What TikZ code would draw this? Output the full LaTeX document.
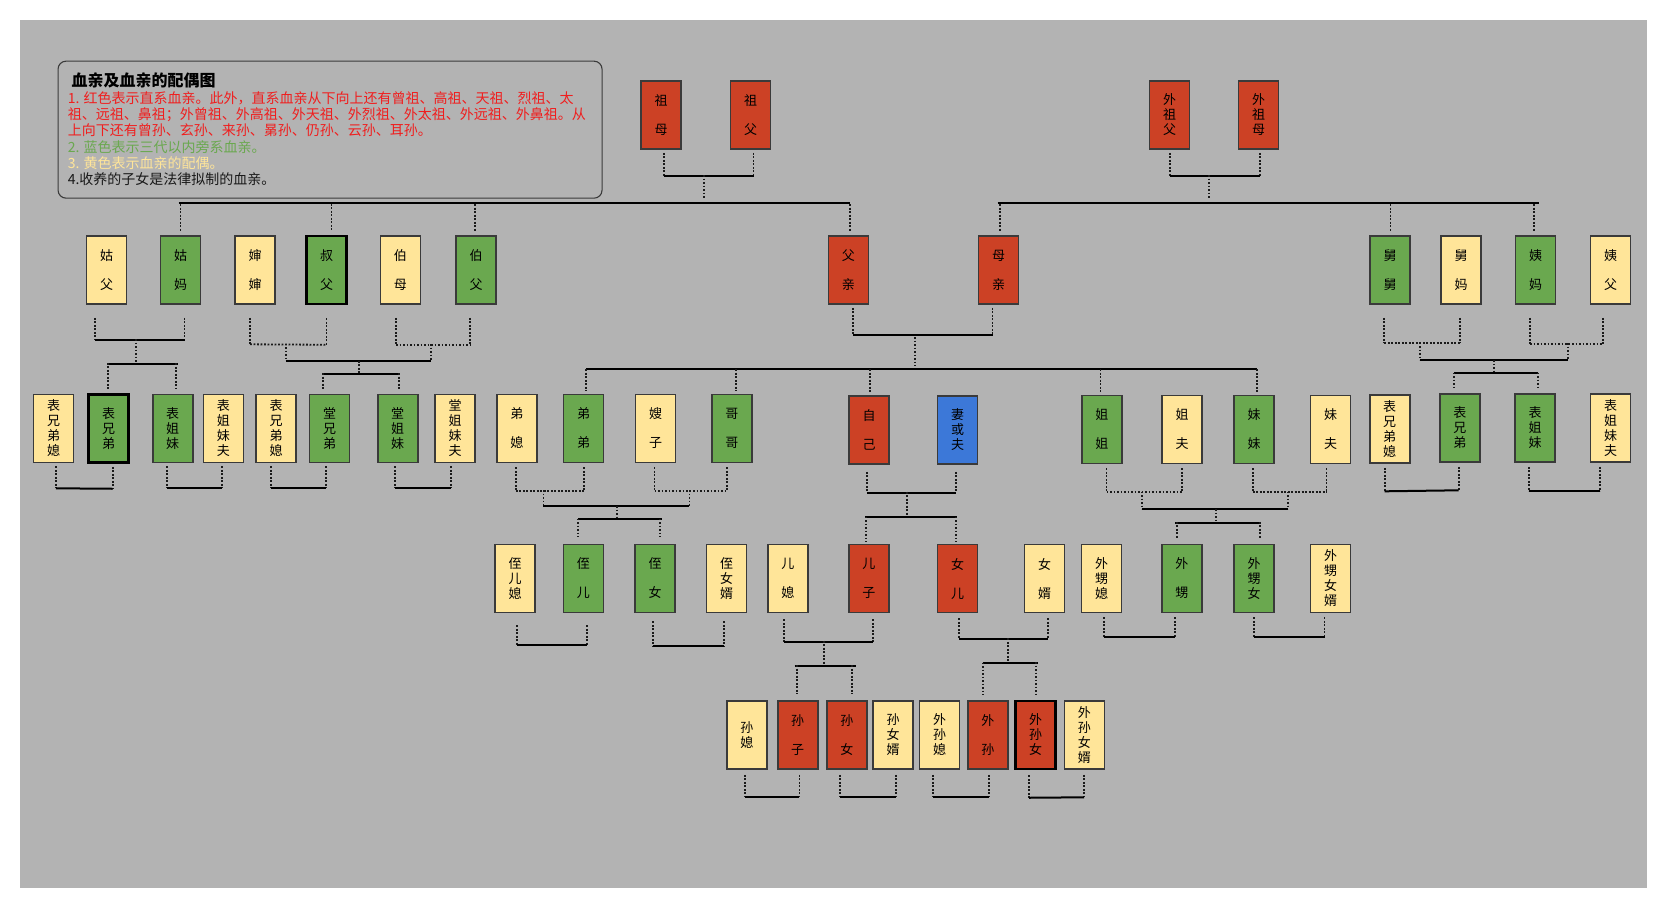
\documentclass[tikz,border=0pt]{standalone}
\usepackage{fontspec}
\usetikzlibrary{calc}
\newfontfamily\cjk{Noto Sans CJK SC}
\definecolor{bgc}{HTML}{B3B3B3}
\definecolor{cred}{HTML}{CC4125}
\definecolor{cgreen}{HTML}{6AA84F}
\definecolor{cyellow}{HTML}{FFE599}
\definecolor{cblue}{HTML}{3C78D8}
\definecolor{boxline}{HTML}{3A3A3A}
\definecolor{dotc}{HTML}{1A1A1A}
\definecolor{tred}{HTML}{F01E1E}
\definecolor{tgreen}{HTML}{6AA84F}
\definecolor{tyellow}{HTML}{FFE599}
\newcommand\lblfont{\cjk\fontsize{13}{15}\selectfont}
\newcommand\notefont{\cjk\fontsize{14}{16}\selectfont}
\newcommand\ttlfont{\cjk\bfseries\fontsize{16}{18}\selectfont}
\newcommand\famlink[7]{%
  \draw[dl] ($(#2.south)+(#3,#7)$) -- ($(#2.south)+(#3,#6)$);
  \draw[dl] ($(#4.south)+(#5,#7)$) -- ($(#4.south)+(#5,#6)$);
  \draw[#1] ($(#2.south)+(#3,#6)$) -- ($(#4.south)+(#5,#6)$);}
\newcommand\dropto[4]{%
  \draw[dl] ($(#1.north)+(#2,-#3)$) -- ($(#1.north)+(#2,-#4)$);}
\tikzset{
  box/.style={draw=boxline, line width=1.6pt, minimum width=40pt, minimum height=68pt,
    inner sep=0pt, align=center, font=\lblfont, text=black},
  rbx/.style={box, fill=cred},
  gbx/.style={box, fill=cgreen},
  ybx/.style={box, fill=cyellow},
  bbx/.style={box, fill=cblue},
  heavy/.style={draw=black, line width=2.5pt},
  dl/.style={draw=dotc, line width=1.8pt, dash pattern=on 1.8pt off 1.7pt},
  sl/.style={draw=black, line width=2pt},
  note/.style={anchor=base west, font=\notefont, inner sep=0pt},
}
\begin{document}
\begin{tikzpicture}[x=1pt,y=-1pt]
\useasboundingbox (0,0) rectangle (1667,908);
\fill[white] (0,0) rectangle (1667,908);
\fill[bgc] (20,20) rectangle (1647,888);

% legend
\node[draw=boxline, line width=1.1pt, rounded corners=8pt, minimum width=544pt, minimum height=137pt,
  anchor=north west, inner sep=0pt] (legend) at (57.5,60.6) {};
\node[anchor=base west, font=\ttlfont, inner sep=0pt, text=black] (title) at (71.5,86) {血亲及血亲的配偶图};
\node[note, text=tred] (n1) at (67.6,103.6) {1. 红色表示直系血亲。此外，直系血亲从下向上还有曾祖、高祖、天祖、烈祖、太};
\node[note, text=tred] (n2) at (67.6,119.8) {祖、远祖、鼻祖；外曾祖、外高祖、外天祖、外烈祖、外太祖、外远祖、外鼻祖。从};
\node[note, text=tred] (n3) at (67.6,135.8) {上向下还有曾孙、玄孙、来孙、晜孙、仍孙、云孙、耳孙。};
\node[note, text=tgreen] (n4) at (67.6,152) {2. 蓝色表示三代以内旁系血亲。};
\node[note, text=tyellow] (n5) at (67.6,168.1) {3. 黄色表示血亲的配偶。};
\node[note, text=black!90] (n6) at (67.6,184) {4.收养的子女是法律拟制的血亲。};

% row 0
\node[rbx] (zumu) at (661,115) {祖\\[14pt]母};
\node[rbx] (zufu) at (750.5,115) {祖\\[14pt]父};
\node[rbx] (wzf) at (1169.6,115) {外\\祖\\父};
\node[rbx] (wzm) at (1258.6,115) {外\\祖\\母};

% row 1
\node[ybx] (gufu) at (106.5,270) {姑\\[14pt]父};
\node[gbx] (gumu) at (180.5,270) {姑\\[14pt]妈};
\node[ybx] (shen) at (255,270) {婶\\[14pt]婶};
\node[gbx, heavy] (shu) at (326.5,270) {叔\\[14pt]父};
\node[ybx] (bomu) at (400.3,270) {伯\\[14pt]母};
\node[gbx] (bofu) at (476,270) {伯\\[14pt]父};
\node[rbx] (fu) at (848.3,270) {父\\[14pt]亲};
\node[rbx] (mu) at (998.5,270) {母\\[14pt]亲};
\node[gbx] (jiu) at (1390,270) {舅\\[14pt]舅};
\node[ybx] (jiuma) at (1461,270) {舅\\[14pt]妈};
\node[gbx] (yima) at (1535.5,270) {姨\\[14pt]妈};
\node[ybx] (yifu) at (1610.5,270) {姨\\[14pt]父};

% row 2
\node[ybx] (la) at (53.5,428.5) {表\\兄\\弟\\媳};
\node[gbx, heavy] (lb) at (108.7,428.5) {表\\兄\\弟};
\node[gbx] (lc) at (172.7,428.5) {表\\姐\\妹};
\node[ybx] (ld) at (223.3,428.5) {表\\姐\\妹\\夫};
\node[ybx] (le) at (276.2,428.5) {表\\兄\\弟\\媳};
\node[gbx] (lf) at (329.5,428.5) {堂\\兄\\弟};
\node[gbx] (lg) at (397.7,428.5) {堂\\姐\\妹};
\node[ybx] (lh) at (455.2,428.5) {堂\\姐\\妹\\夫};
\node[ybx] (dixi) at (516.8,428.5) {弟\\[14pt]媳};
\node[gbx] (didi) at (583.5,428.5) {弟\\[14pt]弟};
\node[ybx] (sao) at (655.5,428.5) {嫂\\[14pt]子};
\node[gbx] (gege) at (731.8,428.5) {哥\\[14pt]哥};
\node[rbx] (self) at (869.2,430) {自\\[14pt]己};
\node[bbx] (spouse) at (957.5,430) {妻\\或\\夫};
\node[gbx] (jiejie) at (1101.8,429.5) {姐\\[14pt]姐};
\node[ybx] (jiefu) at (1182,429.5) {姐\\[14pt]夫};
\node[gbx] (meimei) at (1254,429.5) {妹\\[14pt]妹};
\node[ybx] (meifu) at (1330.5,429.5) {妹\\[14pt]夫};
\node[ybx] (r1) at (1389.7,429) {表\\兄\\弟\\媳};
\node[gbx] (r2) at (1459.8,428) {表\\兄\\弟};
\node[gbx] (r3) at (1535.2,428) {表\\姐\\妹};
\node[ybx] (r4) at (1610.5,428) {表\\姐\\妹\\夫};

% row 3
\node[ybx] (zexi) at (515.2,578.5) {侄\\儿\\媳};
\node[gbx] (zer) at (583.4,578.5) {侄\\[14pt]儿};
\node[gbx] (znv) at (655.2,578.5) {侄\\[14pt]女};
\node[ybx] (znx) at (726.5,578.5) {侄\\女\\婿};
\node[ybx] (erxi) at (787.9,578.5) {儿\\[14pt]媳};
\node[rbx] (erzi) at (868.9,578.5) {儿\\[14pt]子};
\node[rbx] (nver) at (957.5,578.5) {女\\[14pt]儿};
\node[ybx] (nvxu) at (1044.5,578.5) {女\\[14pt]婿};
\node[ybx] (wsx) at (1101.5,578.5) {外\\甥\\媳};
\node[gbx] (ws) at (1181.9,578.5) {外\\[14pt]甥};
\node[gbx] (wsn) at (1254.2,578.5) {外\\甥\\女};
\node[ybx] (wsnx) at (1330.5,578.5) {外\\甥\\女\\婿};

% row 4
\node[ybx] (sunxi) at (746.9,735) {孙\\媳};
\node[rbx] (sunzi) at (797.7,735) {孙\\[14pt]子};
\node[rbx] (sunnv) at (846.9,735) {孙\\[14pt]女};
\node[ybx] (sunnx) at (893.2,735) {孙\\女\\婿};
\node[ybx] (wsunx) at (939.5,735) {外\\孙\\媳};
\node[rbx] (wsun) at (987.9,735) {外\\[14pt]孙};
\node[rbx, heavy] (wsunn) at (1035.5,735) {外\\孙\\女};
\node[ybx] (wsunnx) at (1084.3,735) {外\\孙\\女\\婿};

% junction coordinates
\coordinate (pg1) at (704,175); \coordinate (pg2) at (704,199);
\coordinate (pl1) at (178.6,203); \coordinate (pl2) at (850.4,203);
\coordinate (mg1) at (1209,175); \coordinate (mg2) at (1209,199);
\coordinate (ml1) at (997.5,203); \coordinate (ml2) at (1538.6,203);
\coordinate (g1) at (135.7,339); \coordinate (g2) at (135.7,364);
\coordinate (g3) at (108.3,364); \coordinate (g4) at (177.7,364);
\coordinate (s1) at (285.7,343.5); \coordinate (s2) at (285.7,360.7);
\coordinate (s3) at (431,344); \coordinate (s4) at (431,360.7);
\coordinate (s5) at (359.3,360.7); \coordinate (s6) at (359.3,374);
\coordinate (s7) at (323.3,374); \coordinate (s8) at (399.3,374);
\coordinate (f1) at (915.3,337); \coordinate (f2) at (915.3,366);
\coordinate (f3) at (586,368.5); \coordinate (f4) at (1257,368.5);
\coordinate (j1) at (1420,342.5); \coordinate (j2) at (1420,360);
\coordinate (j3) at (1568,343); \coordinate (j4) at (1568,360);
\coordinate (j5) at (1493.7,360); \coordinate (j6) at (1493.7,373.3);
\coordinate (j7) at (1454.3,373.3); \coordinate (j8) at (1537.7,373.3);
\coordinate (d1) at (543.4,490); \coordinate (d2) at (543.4,506);
\coordinate (d3) at (689.4,490); \coordinate (d4) at (689.4,506);
\coordinate (d5) at (616.9,506); \coordinate (d6) at (616.9,519.3);
\coordinate (d7) at (577.8,519.3); \coordinate (d8) at (661.9,519.3);
\coordinate (e1) at (906.8,491.7); \coordinate (e2) at (906.8,517.3);
\coordinate (e3) at (865,517.3); \coordinate (e4) at (956.8,517.3);
\coordinate (k1) at (1142,491.5); \coordinate (k2) at (1142,509);
\coordinate (k3) at (1287.9,491.5); \coordinate (k4) at (1287.9,509);
\coordinate (k5) at (1216.3,509); \coordinate (k6) at (1216.3,522.7);
\coordinate (k7) at (1175.4,522.7); \coordinate (k8) at (1260,522.7);
\coordinate (h1) at (823.7,640.7); \coordinate (h2) at (823.7,666);
\coordinate (h3) at (794.7,666); \coordinate (h4) at (856,666);
\coordinate (q1) at (1007.7,638.3); \coordinate (q2) at (1007.7,663.3);
\coordinate (q3) at (982.7,663.3); \coordinate (q4) at (1038.3,663.3);

% grandparents
\famlink{sl}{zumu}{3}{zufu}{3}{26}{3}
\draw[dl] (pg1) -- (pg2);
\draw[sl] (pl1) -- (pl2);
\dropto{gumu}{0}{31}{4}
\dropto{shu}{5}{31}{4}
\dropto{bofu}{-1}{31}{4}
\dropto{fu}{2}{31}{4}
\famlink{sl}{wzf}{0}{wzm}{1}{26}{3}
\draw[dl] (mg1) -- (mg2);
\draw[sl] (ml1) -- (ml2);
\dropto{mu}{1.5}{31}{4}
\dropto{jiu}{0.5}{31}{4}
\dropto{yima}{-1.5}{31}{4}

% row 1 families
\famlink{sl}{gufu}{-11.5}{gumu}{4}{35}{13}
\draw[dl] (g1) -- (g2);
\draw[sl] (g3) -- (g4);
\dropto{lb}{-0.4}{30.5}{4.5}
\dropto{lc}{3.6}{30.5}{4.5}

\famlink{dl}{shen}{-5}{shu}{0}{39.5}{13}
\famlink{dl}{bomu}{-4.3}{bofu}{-6}{40}{13}
\draw[dl] (s1) -- (s2);
\draw[dl] (s3) -- (s4);
\draw[sl] (s2) -- (s4);
\draw[dl] (s5) -- (s6);
\draw[sl] (s7) -- (s8);
\dropto{lf}{-6.2}{20.5}{4.5}
\dropto{lg}{1.6}{20.5}{4.5}

\famlink{sl}{fu}{5}{mu}{-6}{30}{3}
\draw[dl] (f1) -- (f2);
\draw[sl] (f3) -- (f4);
\dropto{didi}{2.5}{24.5}{2.5}
\dropto{gege}{4.2}{24.5}{2.5}
\dropto{self}{1.1}{26}{2.5}
\dropto{jiejie}{-1.3}{25.5}{2.5}
\dropto{meimei}{2.6}{25.5}{2.5}

\famlink{dl}{jiu}{-5.7}{jiuma}{-0.7}{38.5}{13}
\famlink{dl}{yima}{-5.5}{yifu}{-7.5}{39}{13}
\draw[dl] (j1) -- (j2);
\draw[dl] (j3) -- (j4);
\draw[sl] (j2) -- (j4);
\draw[dl] (j5) -- (j6);
\draw[sl] (j7) -- (j8);
\dropto{r2}{-5.5}{20.7}{5}
\dropto{r3}{2.5}{20.7}{5}

% row 2 families
\famlink{sl}{la}{2.3}{lb}{4}{25}{3}
\famlink{sl}{lc}{-5.7}{ld}{-1.3}{25}{3}
\famlink{sl}{le}{-5.5}{lf}{-3.7}{25}{3}
\famlink{sl}{lg}{-3}{lh}{-4.5}{25}{3}
\famlink{dl}{dixi}{-0.9}{didi}{0.3}{27.5}{4}
\famlink{dl}{sao}{-1}{gege}{-4.8}{27.5}{4}
\draw[dl] (d1) -- (d2);
\draw[dl] (d3) -- (d4);
\draw[sl] (d2) -- (d4);
\draw[dl] (d5) -- (d6);
\draw[sl] (d7) -- (d8);
\dropto{zer}{-5.1}{25.2}{6.5}
\dropto{znv}{4.4}{25.2}{6.5}
\famlink{sl}{self}{-2.4}{spouse}{-1.5}{27.7}{7}
\draw[dl] (e1) -- (e2);
\draw[sl] (e3) -- (e4);
\dropto{erzi}{-3.2}{27.2}{1.5}
\dropto{nver}{-1.5}{27.2}{1.5}
\famlink{dl}{jiejie}{4.7}{jiefu}{0.3}{28}{4}
\famlink{dl}{meimei}{-1.3}{meifu}{-4}{28}{4}
\draw[dl] (k1) -- (k2);
\draw[dl] (k3) -- (k4);
\draw[sl] (k2) -- (k4);
\draw[dl] (k5) -- (k6);
\draw[sl] (k7) -- (k8);
\dropto{ws}{-4.6}{21.8}{4.5}
\dropto{wsn}{5.4}{21.8}{4.5}
\famlink{sl}{r1}{-5}{r2}{-1.2}{27.5}{4}
\famlink{sl}{r3}{-6.6}{r4}{-10.5}{28.5}{4}

% row 3 families
\famlink{sl}{zexi}{1.4}{zer}{3.4}{32}{12}
\famlink{sl}{znv}{-2.5}{znx}{-2.5}{33}{8}
\famlink{sl}{erxi}{-3.9}{erzi}{3.8}{28.2}{6}
\draw[dl] (h1) -- (h2);
\draw[sl] (h3) -- (h4);
\dropto{sunzi}{-1}{35}{6}
\dropto{sunnv}{5.1}{35}{6}
\famlink{sl}{nver}{1.5}{nvxu}{3.8}{25.8}{5}
\draw[dl] (q1) -- (q2);
\draw[sl] (q3) -- (q4);
\dropto{wsun}{-5.2}{37.7}{5}
\dropto{wsunn}{0.2}{37.7}{5}
\famlink{sl}{wsx}{2.5}{ws}{-6.9}{24}{4}
\famlink{sl}{wsn}{0.1}{wsnx}{-6}{24}{4}

% row 4 families
\famlink{sl}{sunxi}{-1.9}{sunzi}{1.7}{27.5}{5}
\famlink{sl}{sunnv}{-7.1}{sunnx}{2.8}{27.5}{5}
\famlink{sl}{wsunx}{-6.5}{wsun}{0.7}{27.5}{5}
\famlink{sl}{wsunn}{-6.5}{wsunnx}{-0.3}{27.5}{5}
\end{tikzpicture}
\end{document}
